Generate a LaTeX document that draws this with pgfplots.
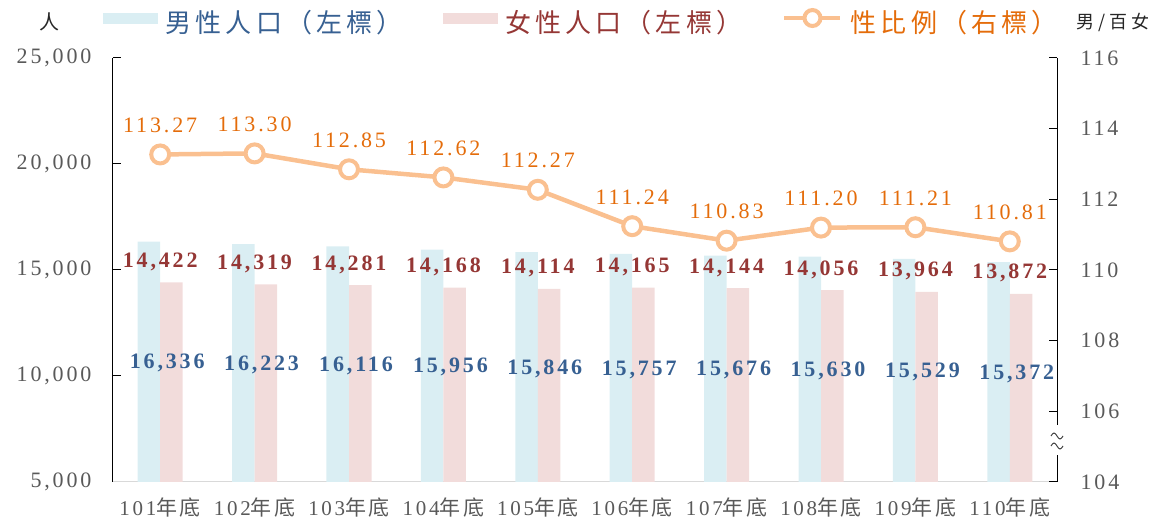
\documentclass[border=0pt]{standalone}
\usepackage{pgfplots}
\pgfplotsset{compat=1.18}
\usepackage{fontspec}
\setmainfont[LetterSpace=13]{Liberation Serif}
\newfontfamily\cjk[LetterSpace=16]{Noto Sans CJK TC}
\newfontfamily\cjkunit[LetterSpace=24]{Noto Sans CJK TC}
\newfontfamily\cjksp[LetterSpace=12]{Noto Sans CJK TC}
\definecolor{maleBar}{HTML}{DAEEF3}
\definecolor{femBar}{HTML}{F2DCDB}
\definecolor{maleTxt}{HTML}{376092}
\definecolor{femTxt}{HTML}{953735}
\definecolor{ratioLine}{HTML}{FAC090}
\definecolor{ratioTxt}{HTML}{E46C0A}
\definecolor{tickTxt}{HTML}{595959}
\pgfplotsset{/pgf/number format/assume math mode=true}
\newcommand\tfont{\fontsize{22}{26}\selectfont}
\newcommand\xl[1]{#1{\cjksp\fontsize{21}{25}\selectfont 年底}}
\begin{document}
\begin{tikzpicture}
\begin{axis}[
  at={(0pt,0pt)}, anchor=south west,
  scale only axis, width=944pt, height=424pt,
  xmin=-0.5, xmax=9.5, ymin=5000, ymax=25000,
  ytick={5000,10000,...,25000},
  scaled y ticks=false,
  xtick={0,...,9},
  xticklabels={\xl{101},\xl{102},\xl{103},\xl{104},\xl{105},\xl{106},\xl{107},\xl{108},\xl{109},\xl{110}},
  axis x line*=bottom, axis y line*=left,
  x axis line style={draw=black!15, line width=1pt, -},
  y axis line style={draw=black, line width=1pt, -},
  xtick style={draw=none},
  ytick style={draw=black, line width=1pt},
  tick align=inside, major tick length=8pt,
  yticklabel style={font=\tfont, text=tickTxt, xshift=-18pt},
  xticklabel style={font=\fontsize{21}{25}\selectfont, text=tickTxt, yshift=-4pt},
  ybar=0pt, bar width=22.5pt,
  clip=false,
]
\addplot[fill=maleBar, draw=none,
  nodes near coords,
  visualization depends on={y \as \yv},
  every node near coord/.style={font=\tfont\bfseries, text=maleTxt, anchor=base,
     xshift=7pt, yshift={-(\yv-5000)*0.0106pt-7pt}}]
  coordinates {(0,16336) (1,16223) (2,16116) (3,15956) (4,15846) (5,15757) (6,15676) (7,15630) (8,15529) (9,15372)};
\addplot[fill=femBar, draw=none,
  nodes near coords,
  every node near coord/.style={font=\tfont\bfseries, text=femTxt, anchor=base, yshift=15pt}]
  coordinates {(0,14422) (1,14319) (2,14281) (3,14168) (4,14114) (5,14165) (6,14144) (7,14056) (8,13964) (9,13872)};
\end{axis}
\begin{axis}[
  at={(0pt,0pt)}, anchor=south west,
  scale only axis, width=944pt, height=424pt,
  xmin=-0.5, xmax=9.5, ymin=104, ymax=116,
  ytick={104,106,...,116},
  axis y line*=right, axis x line=none,
  y axis line style={draw=black, line width=1pt, -},
  ytick style={draw=black, line width=1pt},
  tick align=inside, major tick length=8pt,
  yticklabel style={font=\tfont, text=tickTxt, xshift=20pt},
  clip=false,
  legend columns=3,
  legend style={draw=none, fill=none, at={(axis description cs:-0.0106,1.085)}, anchor=west,
    font=\cjk\fontsize{26}{30}\selectfont, inner sep=0pt,
    /tikz/every odd column/.append style={column sep=6pt},
    /tikz/every even column/.append style={column sep=38pt}},
]
\addlegendimage{legend image code/.code={\fill[maleBar] (0pt,-1pt) rectangle (54pt,9pt);}}
\addlegendentry[text=maleTxt]{男性人口（左標）}
\addlegendimage{legend image code/.code={\fill[femBar] (0pt,-1pt) rectangle (54pt,9pt);}}
\addlegendentry[text=femTxt]{女性人口（左標）}
\addplot[color=ratioLine, line width=4.5pt, mark=*, mark size=9pt,
  mark options={fill=white, draw=ratioLine, line width=4pt},
  legend image code/.code={\draw[ratioLine, line width=4.5pt] (0pt,4pt) -- (56pt,4pt);
     \draw[ratioLine, line width=4pt, fill=white] (28pt,4pt) circle (8pt);},
  nodes near coords={\pgfmathprintnumber[fixed,zerofill,precision=2]{\pgfplotspointmeta}},
  every node near coord/.style={font=\tfont, text=ratioTxt, anchor=base, yshift=22pt}]
  coordinates {(0,113.27) (1,113.30) (2,112.85) (3,112.62) (4,112.27) (5,111.24) (6,110.83) (7,111.20) (8,111.21) (9,110.81)};
\addlegendentry[text=ratioTxt]{性比例（右標）}
\end{axis}
\fill[white] (939pt,27pt) rectangle (949pt,57pt);
\draw[black!80, line width=0.9pt] (938pt,46pt) sin (941pt,49pt) cos (944pt,46pt) sin (947pt,43pt) cos (950pt,46pt);
\draw[black!80, line width=0.9pt] (938pt,36pt) sin (941pt,39pt) cos (944pt,36pt) sin (947pt,33pt) cos (950pt,36pt);
\node[font=\cjk\fontsize{20}{24}\selectfont, text=black!85] at (-63pt,460pt) {人};
\node[font=\cjkunit\fontsize{18}{22}\selectfont, text=black!85] at (1000pt,460pt) {男/百女};
\pgfresetboundingbox
\path (-113pt,-40pt) rectangle (1055pt,482pt);
\end{tikzpicture}
\end{document}
